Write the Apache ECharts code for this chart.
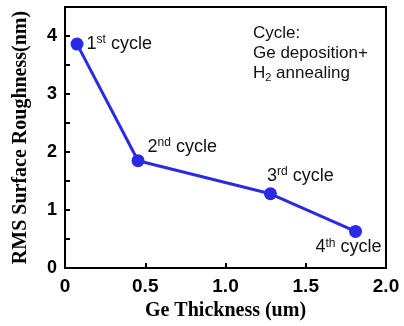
<!DOCTYPE html>
<html><head><meta charset="utf-8">
<script src="https://cdn.jsdelivr.net/npm/echarts@6/dist/echarts.min.js"></script>
<style>html,body{margin:0;padding:0;background:#fff}#c{width:404px;height:326px}</style>
</head><body><div id="c"></div>
<script>
const thickness = [0.075, 0.455, 1.28, 1.81];
const roughness = [3.86, 1.85, 1.28, 0.63];
const cycleNum = ['1', '2', '3', '4'];
const cycleSup = ['st', 'nd', 'rd', 'th'];
const xTicks = ['0', '0.5', '1.0', '1.5', '2.0'];

const chart = echarts.init(document.getElementById('c'));
const rich = {
  n: {fontFamily: 'Liberation Sans', fontSize: 18, color: '#111', lineHeight: 20},
  s: {fontFamily: 'Liberation Sans', fontSize: 12, color: '#111', verticalAlign: 'top', lineHeight: 20, padding: [0, 0, 7, 0]}
};
const pos = ['right', 'right', 'inside', 'inside'];
const offs = [[-2, 0], [-2, -14], [30, -18], [-7, 16]];
const data = thickness.map((x, i) => ({
  value: [x, roughness[i]],
  label: {
    show: true,
    position: pos[i],
    offset: offs[i],
    formatter: '{n|' + cycleNum[i] + '}{s|' + cycleSup[i] + '}{n| cycle}',
    rich: rich
  }
}));
chart.setOption({
  animation: false,
  grid: {left: 65, right: 18, top: 7, bottom: 57, show: true, borderColor: '#000', borderWidth: 2},
  xAxis: {
    type: 'value', min: 0, max: 2, interval: 0.5,
    name: 'Ge Thickness (um)', nameLocation: 'middle', nameGap: 33,
    nameTextStyle: {fontFamily: 'Liberation Serif', fontWeight: 'bold', fontSize: 20, color: '#000'},
    axisLine: {show: true, lineStyle: {color: '#000', width: 2}},
    axisTick: {inside: true, length: 5, lineStyle: {color: '#000', width: 2}},
    axisLabel: {fontFamily: 'Liberation Sans', fontWeight: 'bold', fontSize: 19, color: '#000', margin: 9,
      formatter: v => xTicks[Math.round(v / 0.5)]},
    splitLine: {show: false}
  },
  yAxis: {
    type: 'value', min: 0, max: 4.5, interval: 1,
    name: 'RMS Surface Roughness(nm)', nameLocation: 'middle', nameGap: 34,
    nameTextStyle: {fontFamily: 'Liberation Serif', fontWeight: 'bold', fontSize: 20, color: '#000'},
    axisLine: {show: true, lineStyle: {color: '#000', width: 2}},
    axisTick: {inside: true, length: 5, lineStyle: {color: '#000', width: 2}},
    minorTick: {show: true, splitNumber: 2, length: 5, lineStyle: {color: '#000', width: 2}},
    axisLabel: {fontFamily: 'Liberation Sans', fontWeight: 'bold', fontSize: 18, color: '#000', margin: 8,
      formatter: v => (v <= 4 ? String(v) : '')},
    splitLine: {show: false}
  },
  graphic: [{
    type: 'text', left: 253, top: 25,
    style: {
      text: '{n|Cycle:}\n{n|Ge deposition+}\n{n|H}{b|2}{n| annealing}',
      rich: {
        n: {fontFamily: 'Liberation Sans', fontSize: 17, fill: '#111', lineHeight: 20},
        b: {fontFamily: 'Liberation Sans', fontSize: 11, fill: '#111', lineHeight: 20, verticalAlign: 'bottom', padding: [6, 0, 0, 0]}
      }
    }
  }],
  series: [{
    type: 'line', data: data,
    symbol: 'circle', symbolSize: 13,
    lineStyle: {color: '#2a2ae6', width: 3},
    itemStyle: {color: '#2a2ae6'}
  }]
});
</script></body></html>
